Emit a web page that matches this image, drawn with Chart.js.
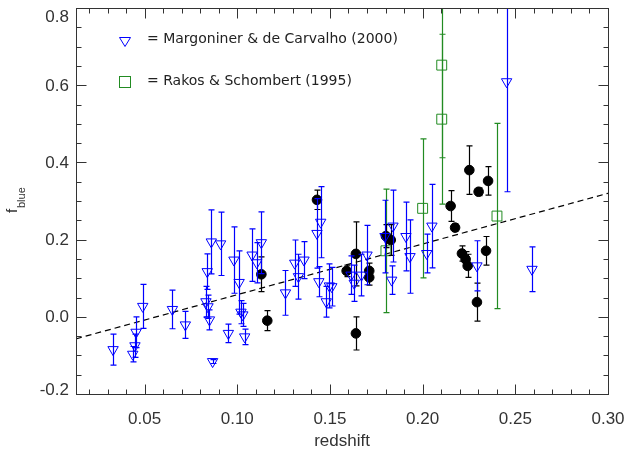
<!DOCTYPE html>
<html>
<head>
<meta charset="utf-8">
<script src="https://cdn.jsdelivr.net/npm/chart.js@4.4.1/dist/chart.umd.min.js"></script>
<style>
  body { margin: 0; background: #fff; }
  canvas { display: block; }
</style>
</head>
<body>
<canvas id="fblue" width="634" height="453"></canvas>
<script>
// Margoniner & de Carvalho (2000) - blue open triangles
const mdcZ = [0.033, 0.0436, 0.0448, 0.0454, 0.049, 0.065, 0.072, 0.0831, 0.0842, 0.0838,
              0.085, 0.086, 0.0867, 0.091, 0.0952, 0.0982, 0.101, 0.102, 0.103, 0.104,
              0.108, 0.1105, 0.113, 0.126, 0.131, 0.133, 0.136, 0.143, 0.145, 0.144,
              0.148, 0.1497, 0.151, 0.1614, 0.1631, 0.167, 0.170, 0.1797, 0.1833, 0.184,
              0.191, 0.1932, 0.2022, 0.205, 0.2293, 0.2453, 0.259];
const mdcF = [-0.085, -0.097, -0.075, -0.040, 0.027, 0.019, -0.021, 0.039, 0.026, 0.117,
              -0.008, 0.194, -0.116, 0.189, -0.043, 0.147, 0.089, 0.012, 0.005, -0.052,
              0.160, 0.140, 0.192, 0.062, 0.139, 0.104, 0.147, 0.216, 0.245, 0.091,
              0.039, 0.080, 0.078, 0.108, 0.087, 0.108, 0.160, 0.208, 0.095, 0.235,
              0.208, 0.156, 0.164, 0.235, 0.132, 0.609, 0.123];
const mdcErr = [0.040, 0.020, 0.030, 0.040, 0.057, 0.050, 0.035, 0.040, 0.030, 0.046,
                0.026, 0.083, 0.005, 0.082, 0.024, 0.086, 0.082, 0.030, 0.030, 0.020,
                0.068, 0.052, 0.080, 0.058, 0.060, 0.058, 0.048, 0.090, 0.092, 0.039,
                0.040, 0.057, 0.050, 0.050, 0.047, 0.054, 0.077, 0.094, 0.037, 0.093,
                0.089, 0.095, 0.050, 0.108, 0.065, 0.285, 0.058];

// our clusters - black filled circles
const ourZ = [0.113, 0.1162, 0.143, 0.159, 0.164, 0.164, 0.1712, 0.1712, 0.1802, 0.1828,
              0.2151, 0.2175, 0.2212, 0.2232, 0.2243, 0.2252, 0.2293, 0.2302, 0.2342, 0.2353];
const ourF = [0.110, -0.010, 0.303, 0.119, 0.163, -0.043, 0.119, 0.102, 0.209, 0.199,
              0.287, 0.231, 0.164, 0.149, 0.132, 0.380, 0.038, 0.324, 0.171, 0.352];
const ourErr = [0.045, 0.026, 0.025, 0.015, 0.083, 0.043, 0.020, 0.020, 0.030, 0.040,
                0.040, 0.010, 0.020, 0.020, 0.030, 0.063, 0.049, 0.010, 0.037, 0.037];

// Rakos & Schombert (1995) - green open squares
const rsZ = [0.1802, 0.200, 0.2103, 0.2103, 0.2401];
const rsF = [0.171, 0.281, 0.652, 0.512, 0.261];
const rsErr = [0.160, 0.180, 0.240, 0.220, 0.240];

// dashed linear fit, end points
const fitZ = [0.013, 0.300];
const fitF = [-0.057, 0.320];

const xTicks = [0.05, 0.10, 0.15, 0.20, 0.25, 0.30];
const yTicks = [-0.2, 0.0, 0.2, 0.4, 0.6, 0.8];

const BLUE = 'rgb(0,0,255)';
const GREEN = 'rgb(34,139,34)';
const INK = '#333';

function pts(xs, ys) {
  return xs.map((x, i) => ({ x: x, y: ys[i] }));
}

// vertical error bars drawn under each dataset's markers
const errorBars = {
  id: 'errorBars',
  beforeDatasetDraw(chart, args) {
    const ds = chart.data.datasets[args.index];
    if (!ds.err) return;
    const ctx = chart.ctx, xs = chart.scales.x, ys = chart.scales.y, a = chart.chartArea;
    ctx.save();
    ctx.beginPath();
    ctx.rect(a.left, a.top, a.right - a.left, a.bottom - a.top);
    ctx.clip();
    ctx.strokeStyle = ds.borderColor;
    ctx.lineWidth = 1.2;
    ctx.setLineDash([]);
    ds.data.forEach((p, i) => {
      const px = Math.round(xs.getPixelForValue(p.x)) + 0.5;
      const y1 = ys.getPixelForValue(p.y + ds.err[i]);
      const y2 = ys.getPixelForValue(p.y - ds.err[i]);
      ctx.beginPath();
      ctx.moveTo(px, y1); ctx.lineTo(px, y2);
      ctx.moveTo(px - 3, y1); ctx.lineTo(px + 3, y1);
      ctx.moveTo(px - 3, y2); ctx.lineTo(px + 3, y2);
      ctx.stroke();
    });
    ctx.restore();
  }
};

// IDL-like frame: box with inward ticks on all sides, labels, titles, legend
const frame = {
  id: 'frame',
  afterDraw(chart) {
    const ctx = chart.ctx, xs = chart.scales.x, ys = chart.scales.y, a = chart.chartArea;
    ctx.save();
    ctx.strokeStyle = INK;
    ctx.lineWidth = 1;
    const L = Math.round(a.left) + 0.5, R = Math.round(a.right) + 0.5;
    const T = Math.round(a.top) + 0.5, B = Math.round(a.bottom) + 0.5;
    ctx.strokeRect(L, T, R - L, B - T);

    ctx.beginPath();
    for (let k = 2; k <= 30; k++) {
      const v = k / 100;
      const px = Math.round(xs.getPixelForValue(v)) + 0.5;
      const len = (k % 5 === 0) ? 10 : 5;
      ctx.moveTo(px, B); ctx.lineTo(px, B - len);
      ctx.moveTo(px, T); ctx.lineTo(px, T + len);
    }
    for (let k = -4; k <= 16; k++) {
      const v = k * 0.05;
      const py = Math.round(ys.getPixelForValue(v)) + 0.5;
      const len = (k % 4 === 0) ? 10 : 5;
      ctx.moveTo(L, py); ctx.lineTo(L + len, py);
      ctx.moveTo(R, py); ctx.lineTo(R - len, py);
    }
    ctx.stroke();

    ctx.fillStyle = INK;
    ctx.font = '17px "Liberation Sans", Arial, sans-serif';
    ctx.textAlign = 'center';
    ctx.textBaseline = 'middle';
    xTicks.forEach(v => {
      ctx.fillText(v.toFixed(2), xs.getPixelForValue(v), 419);
    });
    ctx.textAlign = 'right';
    yTicks.forEach(v => {
      let py = ys.getPixelForValue(v) + 1;
      if (v === 0.8) py += 8;
      if (v === -0.2) py -= 5;
      ctx.fillText(v.toFixed(1), 69, py);
    });

    ctx.textAlign = 'center';
    ctx.fillText('redshift', (a.left + a.right) / 2, 441);

    // y title: f with subscript "blue"
    ctx.save();
    ctx.translate(17, 200);
    ctx.rotate(-Math.PI / 2);
    ctx.textAlign = 'left';
    ctx.textBaseline = 'alphabetic';
    ctx.font = '15px "Liberation Sans", Arial, sans-serif';
    ctx.fillText('f', -13, 0);
    ctx.font = '11px "Liberation Sans", Arial, sans-serif';
    ctx.fillText('blue', -8, 8);
    ctx.restore();

    // legend
    ctx.font = '14px "DejaVu Sans", sans-serif';
    ctx.textAlign = 'left';
    ctx.textBaseline = 'middle';
    ctx.fillStyle = '#222';
    ctx.fillText('= Margoniner & de Carvalho (2000)', 147, 39);
    ctx.fillText('= Rakos & Schombert (1995)', 147, 81);

    ctx.strokeStyle = BLUE;
    ctx.beginPath();
    ctx.moveTo(119.5, 37.5); ctx.lineTo(130.5, 37.5); ctx.lineTo(125, 46.5); ctx.closePath();
    ctx.stroke();
    ctx.strokeStyle = GREEN;
    ctx.strokeRect(119.5, 76.5, 11, 11);
    ctx.restore();
  }
};

new Chart(document.getElementById('fblue'), {
  type: 'scatter',
  data: {
    datasets: [
      {
        label: 'Margoniner & de Carvalho (2000)',
        data: pts(mdcZ, mdcF),
        err: mdcErr,
        pointStyle: 'triangle',
        rotation: 180,
        radius: 6,
        borderColor: BLUE,
        backgroundColor: 'rgba(255,255,255,0)',
        borderWidth: 1
      },
      {
        label: 'clusters',
        data: pts(ourZ, ourF),
        err: ourErr,
        pointStyle: 'circle',
        radius: 4.8,
        borderColor: '#000',
        backgroundColor: '#000',
        borderWidth: 1
      },
      {
        label: 'Rakos & Schombert (1995)',
        data: pts(rsZ, rsF),
        err: rsErr,
        pointStyle: 'rect',
        radius: 7,
        borderColor: GREEN,
        backgroundColor: 'rgba(255,255,255,0)',
        borderWidth: 1
      },
      {
        type: 'line',
        label: 'fit',
        data: pts(fitZ, fitF),
        borderColor: '#000',
        borderWidth: 1.2,
        borderDash: [6, 4],
        pointRadius: 0,
        fill: false
      }
    ]
  },
  options: {
    responsive: false,
    devicePixelRatio: 1,
    animation: false,
    layout: { padding: { left: 76, right: 26, top: 7, bottom: 59 } },
    plugins: { legend: { display: false }, tooltip: { enabled: false } },
    scales: {
      x: { type: 'linear', min: 0.013, max: 0.30, display: false },
      y: { type: 'linear', min: -0.2, max: 0.8, display: false }
    }
  },
  plugins: [errorBars, frame]
});
</script>
</body>
</html>
